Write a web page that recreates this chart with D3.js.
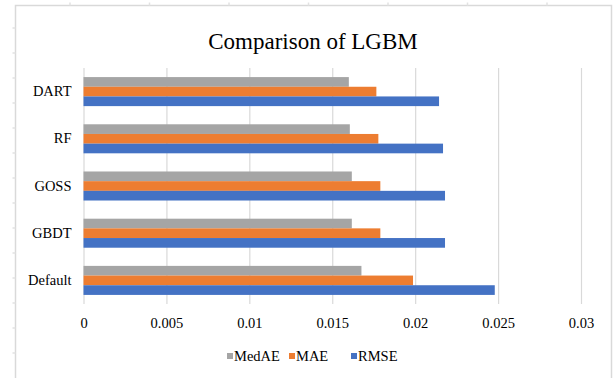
<!DOCTYPE html>
<html>
<head>
<meta charset="utf-8">
<script src="https://cdn.jsdelivr.net/npm/d3@7"></script>
<style>
  html, body { margin: 0; padding: 0; background: #fff; }
  svg { display: block; }
  svg text { font-family: "Liberation Serif", "Tinos", "Times New Roman", "DejaVu Serif", serif !important; fill: #000; }
</style>
</head>
<body>
<svg id="chart" width="613" height="378"></svg>
<script>
// LightGBM boosting variants and their error metrics
const categories = ["DART", "RF", "GOSS", "GBDT", "Default"];
const seriesNames = ["MedAE", "MAE", "RMSE"];
const medae = [0.0160, 0.01606, 0.01618, 0.01618, 0.01676];
const mae   = [0.01766, 0.01778, 0.0179, 0.0179, 0.01987];
const rmse  = [0.02144, 0.02168, 0.0218, 0.0218, 0.0248];
const xTicks = [0, 0.005, 0.01, 0.015, 0.02, 0.025, 0.03];
const colors = ["#A5A5A5", "#ED7D31", "#4472C4"];

const seriesValues = [medae, mae, rmse];
const svg = d3.select("#chart");

// outer chart frame with faint sheet-grid ticks
const frame = svg.append("g");
frame.append("path")
  .attr("d", "M15.5,378 V5.5 H611.5 V378")
  .attr("fill", "none").attr("stroke", "#d9d9d9").attr("stroke-width", 1.5);
d3.range(70, 560, 79.5).forEach(x => {
  frame.append("line").attr("x1", x).attr("x2", x).attr("y1", 2.5).attr("y2", 5.5)
    .attr("stroke", "#e2e2e2").attr("stroke-width", 1.5);
});
d3.range(28, 378, 25).forEach(y => {
  frame.append("line").attr("x1", 12.5).attr("x2", 15.5).attr("y1", y).attr("y2", y)
    .attr("stroke", "#e2e2e2").attr("stroke-width", 1.5);
});

// plot scales
const x = d3.scaleLinear().domain([0, 0.03]).range([83.5, 581]);
const y = d3.scaleBand().domain(categories).range([68, 304])
  .paddingInner(0.385).paddingOuter(0.1925);
const ySub = d3.scaleBand().domain(seriesNames).range([0, y.bandwidth()]);

// title
svg.append("text")
  .attr("x", 313).attr("y", 49)
  .attr("text-anchor", "middle")
  .style("font-size", "23px")
  .text("Comparison of LGBM");

// vertical gridlines
const xAxis = d3.axisBottom(x).tickValues(xTicks)
  .tickFormat(d => d === 0 ? "0" : String(+d.toFixed(3)))
  .tickSize(-(304 - 68)).tickSizeOuter(0);
const gx = svg.append("g").attr("transform", "translate(0,304)").call(xAxis);
gx.select(".domain").remove();
gx.selectAll(".tick line").attr("stroke", "#d9d9d9").attr("stroke-width", 1.2);
gx.selectAll(".tick text")
  .attr("y", 14).attr("dy", "0.71em")
  .style("font-size", "14.5px");

// bars
const groups = svg.append("g").selectAll("g")
  .data(categories)
  .join("g")
  .attr("transform", d => `translate(0,${y(d)})`);

groups.selectAll("rect")
  .data((d, i) => seriesNames.map((s, j) => ({ s, v: seriesValues[j][i], c: colors[j] })))
  .join("rect")
  .attr("x", x(0))
  .attr("y", d => ySub(d.s))
  .attr("width", d => x(d.v) - x(0))
  .attr("height", ySub.bandwidth())
  .attr("fill", d => d.c);

// category labels
const yAxis = d3.axisLeft(y).tickSize(0).tickPadding(12);
const gy = svg.append("g").attr("transform", `translate(${x(0)},0)`).call(yAxis);
gy.select(".domain").remove();
gy.selectAll(".tick text")
  .style("font-size", "14.5px");

// legend
const legend = svg.append("g").attr("transform", "translate(0,356)");
const items = [
  { name: seriesNames[0], c: colors[0], x: 227 },
  { name: seriesNames[1], c: colors[1], x: 289 },
  { name: seriesNames[2], c: colors[2], x: 351 }
];
items.forEach(it => {
  legend.append("rect").attr("x", it.x).attr("y", -3).attr("width", 6).attr("height", 6).attr("fill", it.c);
  legend.append("text").attr("x", it.x + 7).attr("y", 0).attr("dy", "0.35em")
    .style("font-size", "14.5px").text(it.name);
});
</script>
</body>
</html>
